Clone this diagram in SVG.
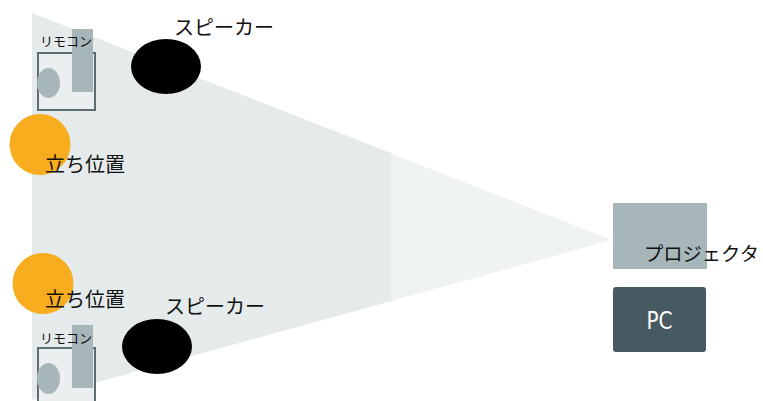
<svg xmlns="http://www.w3.org/2000/svg" width="763" height="401" viewBox="0 0 763 401">
<style>
.jp{font-family:"Noto Sans CJK JP","Noto Sans",sans-serif;fill:#111;}
.box{fill:#ebeff0;stroke:#5d6e72;stroke-width:2;}
.gray{fill:#a6b6b9;}
.spk{fill:#000;}
.pos{fill:#f8ad1f;}
</style>
<rect width="763" height="401" fill="#fff"/>
<g id="light-cone">
<polygon points="32,13 612,240 32,400" fill="#f0f3f3"/>
<polygon points="32,13 391,153 391,301 32,400" fill="#e5eaea"/>
</g>
<g id="connectors"/>
<g id="remote-top">
<rect class="box" x="38" y="53" width="57" height="57"/>
<rect class="gray" x="72" y="29" width="21" height="63"/>
<ellipse class="gray" cx="48.5" cy="83" rx="11.5" ry="15"/>
<text class="jp" x="40" y="46" font-size="13">リモコン</text>
</g>
<g id="speaker-top">
<ellipse class="spk" cx="166" cy="66.5" rx="35" ry="27.5"/>
<text class="jp" x="174" y="35" font-size="20">スピーカー</text>
</g>
<g id="position-top">
<circle class="pos" cx="40" cy="144.5" r="30.5"/>
<text class="jp" x="45" y="172" font-size="20">立ち位置</text>
</g>
<g id="position-bottom">
<circle class="pos" cx="43" cy="283.5" r="30.5"/>
<text class="jp" x="45" y="307" font-size="20">立ち位置</text>
</g>
<g id="speaker-bottom">
<ellipse class="spk" cx="157" cy="346.5" rx="35" ry="27.5"/>
<text class="jp" x="165" y="314" font-size="20">スピーカー</text>
</g>
<g id="remote-bottom">
<rect class="box" x="38" y="348" width="57" height="57"/>
<rect class="gray" x="72" y="325" width="21" height="63"/>
<ellipse class="gray" cx="48.5" cy="378.5" rx="11.5" ry="15.5"/>
<text class="jp" x="40" y="343" font-size="13">リモコン</text>
</g>
<g id="projector">
<rect class="gray" x="613" y="203" width="94" height="66"/>
<text class="jp" x="644" y="261" font-size="19.3">プロジェクタ</text>
</g>
<g id="pc">
<rect x="613" y="287" width="93" height="65" rx="3" fill="#475a62"/>
<text x="659.5" y="329" font-size="24" text-anchor="middle" fill="#fff" font-family="'DejaVu Sans',sans-serif" font-stretch="condensed" textLength="26" lengthAdjust="spacingAndGlyphs">PC</text>
</g>
</svg>
